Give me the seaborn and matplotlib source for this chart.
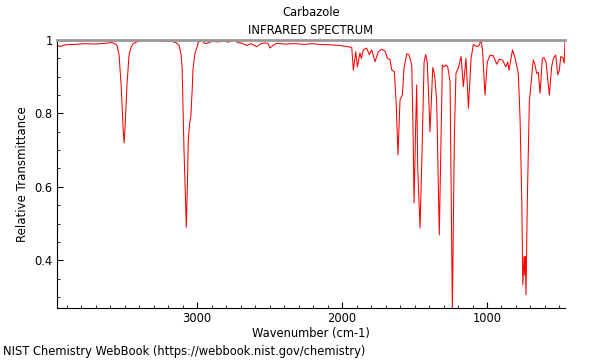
import numpy as np
import pandas as pd
import seaborn as sns
from matplotlib import pyplot as plt
from matplotlib.ticker import MultipleLocator, FuncFormatter

# spectrum (wavenumber cm-1, relative transmittance)
wavenumber = [3966, 3945, 3910, 3841, 3772, 3703, 3635, 3586, 3566, 3552,
              3538, 3524, 3510, 3503, 3497, 3483, 3469, 3455, 3441, 3414,
              3379, 3324, 3269, 3241, 3214, 3172, 3145, 3124, 3110, 3103,
              3090, 3079, 3074, 3067, 3060, 3052, 3043, 3034, 3028, 3014,
              3000, 2993, 2968, 2945, 2924, 2897, 2855, 2814, 2786, 2752,
              2717, 2690, 2657, 2628, 2588, 2559, 2531, 2510, 2497, 2476,
              2450, 2393, 2324, 2255, 2207, 2152, 2083, 2014, 1933, 1922,
              1905, 1894, 1876, 1867, 1853, 1830, 1812, 1795, 1772, 1750,
              1726, 1703, 1687, 1669, 1657, 1639, 1627, 1614, 1600, 1584,
              1572, 1554, 1538, 1519, 1510, 1503, 1493, 1485, 1478, 1462,
              1448, 1434, 1423, 1412, 1393, 1374, 1361, 1347, 1329, 1308,
              1296, 1283, 1271, 1255, 1246, 1239, 1232, 1225, 1214, 1198,
              1179, 1163, 1145, 1128, 1110, 1094, 1071, 1055, 1041, 1030,
              1014, 998, 979, 956, 933, 915, 892, 871, 857, 848,
              824, 807, 784, 772, 760, 753, 744, 740, 736, 731,
              722, 708, 699, 681, 669, 657, 646, 634, 618, 607,
              593, 570, 554, 542, 526, 512, 501, 491, 477, 468, 462]
transmittance = [0.986, 0.982, 0.987, 0.988, 0.990, 0.989, 0.991, 0.993, 0.990, 0.985,
                 0.960, 0.880, 0.760, 0.720, 0.760, 0.880, 0.960, 0.980, 0.990, 0.995,
                 0.999, 1.000, 0.999, 0.996, 0.997, 0.996, 0.993, 0.985, 0.960, 0.924,
                 0.700, 0.560, 0.490, 0.600, 0.730, 0.770, 0.790, 0.860, 0.920, 0.965,
                 0.980, 0.993, 0.999, 0.990, 0.992, 0.996, 0.995, 0.997, 0.994, 1.000,
                 0.993, 0.991, 0.985, 0.990, 0.982, 0.990, 0.992, 0.990, 0.978, 0.985,
                 0.991, 0.989, 0.990, 0.988, 0.990, 0.988, 0.987, 0.985, 0.980, 0.918,
                 0.968, 0.927, 0.965, 0.950, 0.973, 0.978, 0.960, 0.973, 0.941, 0.968,
                 0.975, 0.970, 0.950, 0.947, 0.918, 0.914, 0.832, 0.687, 0.837, 0.850,
                 0.924, 0.962, 0.960, 0.932, 0.750, 0.556, 0.750, 0.878, 0.652, 0.488,
                 0.696, 0.940, 0.960, 0.940, 0.750, 0.925, 0.905, 0.832, 0.469, 0.932,
                 0.927, 0.932, 0.927, 0.887, 0.550, 0.265, 0.500, 0.740, 0.910, 0.923,
                 0.955, 0.873, 0.950, 0.814, 0.950, 0.988, 0.982, 0.985, 1.000, 0.968,
                 0.850, 0.940, 0.959, 0.957, 0.934, 0.948, 0.945, 0.927, 0.940, 0.918,
                 0.973, 0.952, 0.909, 0.787, 0.560, 0.333, 0.410, 0.360, 0.410, 0.306,
                 0.560, 0.832, 0.869, 0.946, 0.932, 0.909, 0.912, 0.855, 0.950, 0.952,
                 0.941, 0.850, 0.927, 0.950, 0.959, 0.905, 0.918, 0.955, 0.952, 0.937, 0.996]

sns.set_theme(style="ticks", rc={"xtick.direction": "in", "ytick.direction": "in",
                                 "xtick.major.size": 4, "ytick.major.size": 4,
                                 "xtick.minor.size": 2.5, "ytick.minor.size": 2.5,
                                 "xtick.major.width": 0.8, "ytick.major.width": 0.8,
                                 "xtick.minor.width": 0.6, "ytick.minor.width": 0.6,
                                 "axes.edgecolor": "black", "axes.linewidth": 0.8,
                                 "text.color": "black", "axes.labelcolor": "black",
                                 "xtick.color": "black", "ytick.color": "black"})
plt.rcParams['font.family'] = ['DejaVu Sans']

df = pd.DataFrame({"wn": wavenumber, "t": transmittance})

fig = plt.figure(figsize=(6, 3.6), dpi=100)
ax = fig.add_axes([57/600, 52/360, 508/600, 268/360])

sns.lineplot(data=df, x="wn", y="t", sort=False, color="red", lw=0.75, ax=ax)

ax.set_xlim(3966, 462)
ax.set_ylim(0.27, 1.0)
ax.xaxis.set_major_locator(MultipleLocator(1000))
ax.xaxis.set_minor_locator(MultipleLocator(100))
ax.yaxis.set_major_locator(MultipleLocator(0.2))
ax.yaxis.set_minor_locator(MultipleLocator(0.05))
ax.yaxis.set_major_formatter(FuncFormatter(lambda v, p: "%g" % round(v, 2)))
ax.tick_params(labelsize=8.3, pad=3)

ax.spines["right"].set_visible(False)
ax.spines["top"].set_color("#999999")
ax.spines["top"].set_linewidth(2)

ax.set_xlabel("Wavenumber (cm-1)", fontsize=8.3, labelpad=1)
ax.set_ylabel("Relative Transmittance", fontsize=8.5, labelpad=4)

fig.text(311/600, 1 - 12/360, "Carbazole", ha="center", va="center", fontsize=8.3)
fig.text(311/600, 1 - 30/360, "INFRARED SPECTRUM", ha="center", va="center", fontsize=8.3)
fig.text(3/600, 1 - 352/360, "NIST Chemistry WebBook (https://webbook.nist.gov/chemistry)",
         ha="left", va="center", fontsize=8.3)

fig.savefig("out.png", dpi=100)
